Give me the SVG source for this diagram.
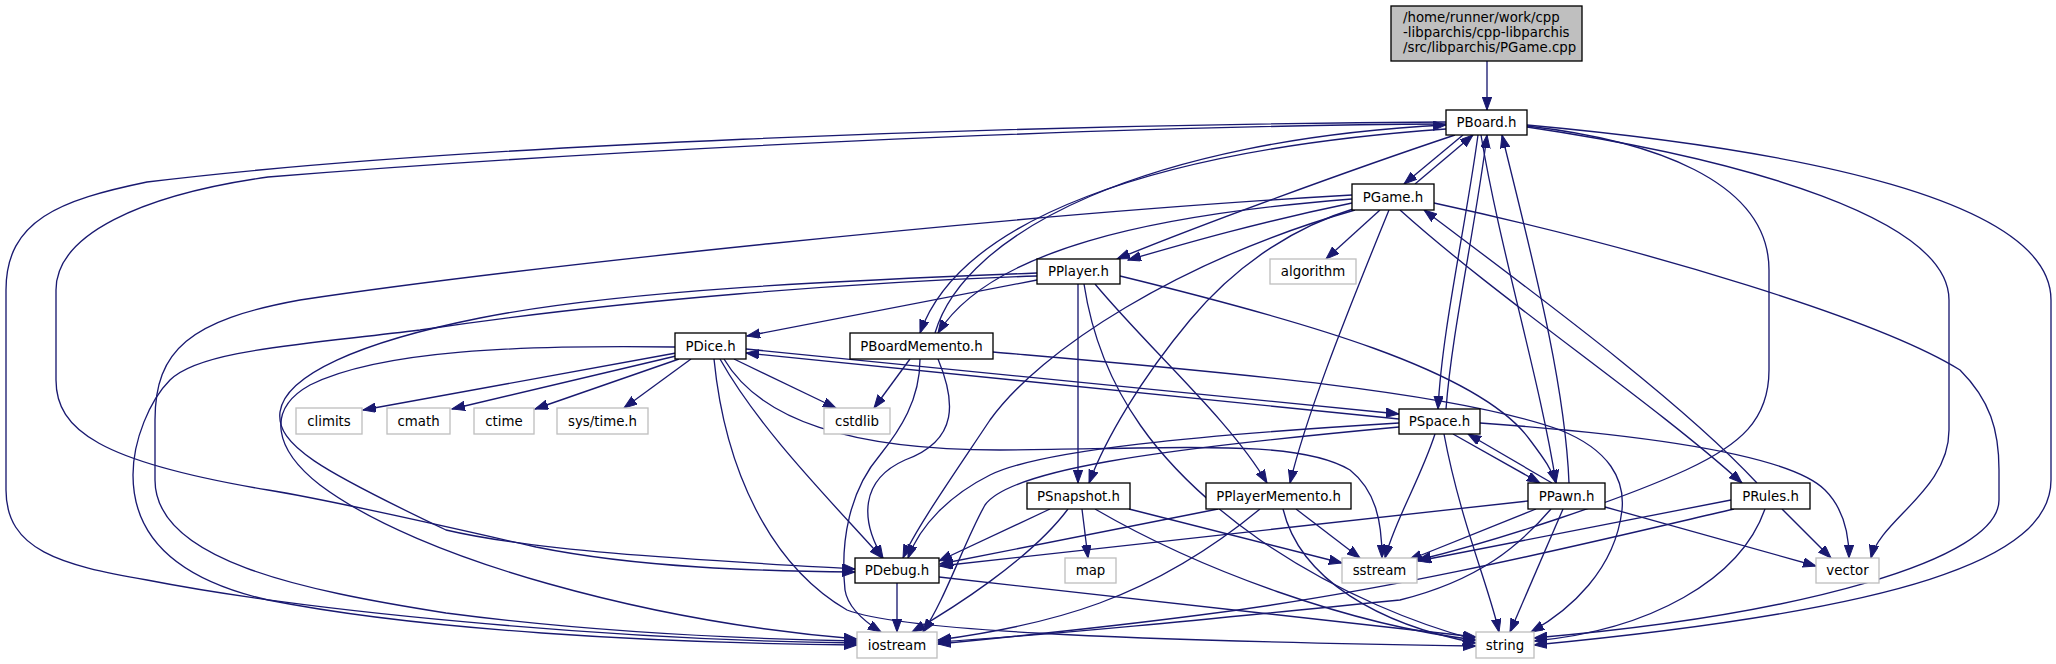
<svg xmlns="http://www.w3.org/2000/svg" width="2056" height="664" viewBox="0 0 2056 664">
<style>
.n rect{fill:#fff;stroke:#000;stroke-width:1.33}
.s rect{fill:#fff;stroke:#bfbfbf;stroke-width:1.33}
.r rect{fill:#bfbfbf;stroke:#000;stroke-width:1.33}
text{font-family:"DejaVu Sans",sans-serif;font-size:13.33px;fill:#000;text-anchor:middle}
.r text{text-anchor:start}
#edges path{fill:none;stroke:#191970;stroke-width:1.33;marker-end:url(#a)}
</style>
<defs>
<marker id="a" markerWidth="14" markerHeight="10" refX="13" refY="4.7" orient="auto" markerUnits="userSpaceOnUse"><path d="M0,0 L13,4.7 L0,9.4 z" fill="#191970" stroke="#191970" stroke-width="1"/></marker>
</defs>
<rect width="2056" height="664" fill="#fff"/>
<g id="edges">
<path d="M1487,61 L1487,110"/>
<path d="M1463,135 L1404,184"/>
<path d="M1415,184 L1473,135"/>
<path d="M1455,135 C1350,170 1200,225 1117,259"/>
<path d="M1352,203 C1260,222 1190,242 1128,260"/>
<path d="M1446,129 C1150,150 960,220 920,333"/>
<path d="M935,333 C965,230 1150,140 1446,125"/>
<path d="M1352,199 C1150,215 990,250 938,333"/>
<path d="M1478,135 C1465,230 1442,330 1438,409"/>
<path d="M1446,409 C1452,330 1475,230 1487,135"/>
<path d="M1481,135 C1500,250 1540,380 1556,483"/>
<path d="M1569,483 C1565,380 1530,250 1502,135"/>
<path d="M1446,124 C1100,126 600,150 268,177 C140,195 56,235 56,290 L56,380 C56,430 100,462 268,490 C330,500 440,525 536,547 C640,568 760,571 855,572"/>
<path d="M1446,122 C1000,125 450,145 147,182 C60,200 6,220 6,290 L6,490 C6,550 60,565 147,580 C300,610 600,640 857,643"/>
<path d="M1352,195 C1000,215 500,270 300,300 C190,320 155,350 155,420 L155,480 C155,560 300,590 446,613 C560,628 700,638 857,641"/>
<path d="M1037,273 C850,280 620,290 480,318 C360,342 285,375 280,412 C276,445 320,470 446,530 C540,552 700,560 855,569"/>
<path d="M1037,276 C860,282 620,300 420,330 C300,345 200,350 170,380 C150,400 133,440 133,475 C133,540 180,580 268,600 C420,630 650,643 857,645"/>
<path d="M675,347 C520,345 380,350 310,385 C265,410 275,450 320,485 C420,560 650,622 857,639"/>
<path d="M676,353 L363,410"/>
<path d="M676,356 L452,409"/>
<path d="M679,359 L535,409"/>
<path d="M691,359 L624,408"/>
<path d="M734,359 L836,408"/>
<path d="M720,359 C760,430 830,500 882,558"/>
<path d="M714,359 C725,470 770,565 847,610 C900,630 1100,640 1476,646"/>
<path d="M724,359 C760,420 850,450 1000,450 C1200,448 1300,440 1350,470 C1375,490 1382,520 1382,558"/>
<path d="M746,349 L1399,414"/>
<path d="M1399,419 L746,353"/>
<path d="M1453,434 L1540,483"/>
<path d="M1552,483 L1468,434"/>
<path d="M1399,423 C1200,435 1040,450 990,475 C950,495 920,525 908,558"/>
<path d="M1399,427 C1150,450 1010,470 985,505 C965,540 945,600 923,632"/>
<path d="M1435,434 C1420,480 1395,520 1385,558"/>
<path d="M1444,434 C1460,520 1490,590 1499,632"/>
<path d="M1480,423 C1650,435 1790,455 1825,490 C1845,510 1849,535 1849,558"/>
<path d="M1528,501 L940,566"/>
<path d="M1536,509 L1409,560"/>
<path d="M1551,509 C1520,545 1480,580 1400,600 C1200,620 1050,635 938,642"/>
<path d="M1563,509 L1510,632"/>
<path d="M1605,507 L1816,566"/>
<path d="M1400,210 C1500,300 1650,400 1742,483"/>
<path d="M1757,483 C1680,400 1530,290 1424,210"/>
<path d="M1731,500 L1418,561"/>
<path d="M1734,509 C1600,540 1400,590 1200,615 C1100,628 1000,638 938,644"/>
<path d="M1765,509 C1740,580 1650,630 1534,641"/>
<path d="M1782,509 L1831,558"/>
<path d="M1380,210 L1326,259"/>
<path d="M1356,208 C1300,225 1240,260 1190,320 C1140,380 1105,440 1089,483"/>
<path d="M1389,210 C1340,330 1305,420 1290,483"/>
<path d="M1355,210 C1180,260 1040,350 990,420 C950,480 915,530 903,558"/>
<path d="M1434,203 C1650,250 1880,320 1960,370 C1990,400 1999,430 1999,470 L1999,500 C1999,560 1800,615 1534,638"/>
<path d="M1527,126 C1650,140 1769,180 1769,270 L1769,370 C1769,420 1740,445 1686,470 C1620,500 1500,540 1418,560"/>
<path d="M1527,127 C1750,160 1949,220 1949,300 L1949,430 C1949,490 1880,520 1871,558"/>
<path d="M1527,125 C1800,150 2051,200 2051,300 L2051,480 C2051,560 1900,610 1534,645"/>
<path d="M910,359 L874,408"/>
<path d="M938,359 C955,400 960,440 905,460 C860,480 860,520 883,558"/>
<path d="M920,359 C920,400 900,430 880,455 C850,490 840,540 845,590 C848,610 870,625 881,632"/>
<path d="M993,352 C1200,370 1450,390 1560,430 C1610,450 1625,480 1622,510 C1615,570 1570,610 1531,632"/>
<path d="M1037,280 L747,336"/>
<path d="M1078,284 L1078,483"/>
<path d="M1095,284 C1150,350 1230,420 1267,483"/>
<path d="M1120,276 C1300,320 1480,370 1530,440 C1545,460 1552,470 1556,483"/>
<path d="M1084,284 C1100,390 1160,470 1260,540 C1340,595 1420,625 1476,640"/>
<path d="M1050,509 L939,561"/>
<path d="M1082,509 L1088,558"/>
<path d="M1068,509 C1030,560 950,610 912,632"/>
<path d="M1095,509 C1200,570 1350,625 1476,640"/>
<path d="M1129,509 L1342,563"/>
<path d="M1218,509 L940,564"/>
<path d="M1260,509 C1150,600 1050,625 938,640"/>
<path d="M1296,509 L1360,558"/>
<path d="M1283,509 C1300,580 1380,625 1476,643"/>
<path d="M897,583 L897,632"/>
<path d="M939,577 L1476,637"/>
</g>
<g id="root" class="r"><rect x="1391" y="6" width="191" height="55"/><text x="1403" y="22">/home/runner/work/cpp</text><text x="1403" y="37">-libparchis/cpp-libparchis</text><text x="1403" y="51.5">/src/libparchis/PGame.cpp</text></g>
<g id="PBoard" class="n"><rect x="1446" y="110" width="81" height="25"/><text x="1486.5" y="127">PBoard.h</text></g>
<g id="PGame" class="n"><rect x="1352" y="184" width="82" height="26"/><text x="1393" y="201.5">PGame.h</text></g>
<g id="PPlayer" class="n"><rect x="1037" y="259" width="83" height="25"/><text x="1078.5" y="276">PPlayer.h</text></g>
<g id="algorithm" class="s"><rect x="1270" y="259" width="86" height="25"/><text x="1313" y="276">algorithm</text></g>
<g id="PDice" class="n"><rect x="675" y="333" width="71" height="26"/><text x="710.5" y="350.5">PDice.h</text></g>
<g id="PBoardMemento" class="n"><rect x="850" y="333" width="143" height="26"/><text x="921.5" y="350.5">PBoardMemento.h</text></g>
<g id="climits" class="s"><rect x="296" y="408" width="66" height="26"/><text x="329" y="425.5">climits</text></g>
<g id="cmath" class="s"><rect x="387" y="408" width="63" height="26"/><text x="418.5" y="425.5">cmath</text></g>
<g id="ctime" class="s"><rect x="474" y="408" width="60" height="26"/><text x="504" y="425.5">ctime</text></g>
<g id="systime" class="s"><rect x="557" y="408" width="91" height="26"/><text x="602.5" y="425.5">sys/time.h</text></g>
<g id="cstdlib" class="s"><rect x="824" y="408" width="66" height="26"/><text x="857" y="425.5">cstdlib</text></g>
<g id="PSpace" class="n"><rect x="1399" y="409" width="81" height="25"/><text x="1439.5" y="426">PSpace.h</text></g>
<g id="PSnapshot" class="n"><rect x="1027" y="483" width="103" height="26"/><text x="1078.5" y="500.5">PSnapshot.h</text></g>
<g id="PPlayerMemento" class="n"><rect x="1206" y="483" width="145" height="26"/><text x="1278.5" y="500.5">PPlayerMemento.h</text></g>
<g id="PPawn" class="n"><rect x="1528" y="483" width="77" height="26"/><text x="1566.5" y="500.5">PPawn.h</text></g>
<g id="PRules" class="n"><rect x="1731" y="483" width="79" height="26"/><text x="1770.5" y="500.5">PRules.h</text></g>
<g id="PDebug" class="n"><rect x="855" y="558" width="84" height="25"/><text x="897" y="575">PDebug.h</text></g>
<g id="map" class="s"><rect x="1065" y="558" width="51" height="25"/><text x="1090.5" y="575">map</text></g>
<g id="sstream" class="s"><rect x="1342" y="558" width="75" height="25"/><text x="1379.5" y="575">sstream</text></g>
<g id="vector" class="s"><rect x="1816" y="558" width="63" height="25"/><text x="1847.5" y="575">vector</text></g>
<g id="iostream" class="s"><rect x="857" y="632" width="80" height="26"/><text x="897" y="649.5">iostream</text></g>
<g id="string" class="s"><rect x="1476" y="632" width="58" height="26"/><text x="1505" y="649.5">string</text></g>
</svg>
